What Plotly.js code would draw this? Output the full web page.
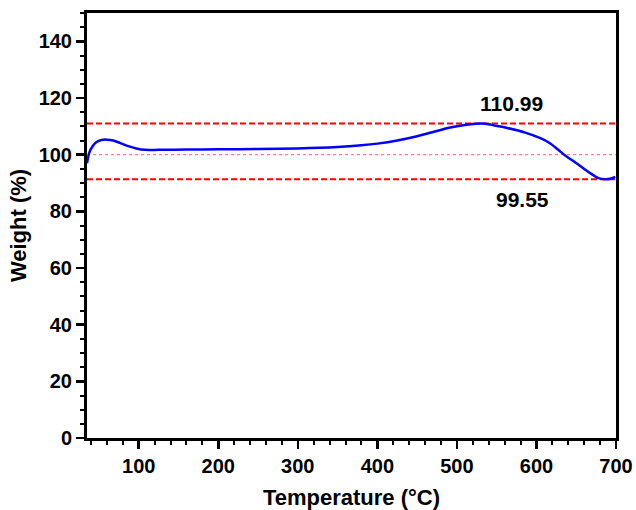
<!DOCTYPE html>
<html>
<head>
<meta charset="utf-8">
<script src="https://cdn.plot.ly/plotly-3.0.1.min.js"></script>
<style>html,body{margin:0;padding:0;background:#fff;}#chart{width:636px;height:510px;}</style>
</head>
<body>
<div id="chart"></div>
<script>
const temperature = [35, 38, 42, 47, 53, 60, 68, 77, 87, 97, 108, 125, 160, 200, 250, 300, 350, 380, 400, 425, 450, 470, 490, 508, 524, 536, 549, 562, 586, 605, 616, 627, 637, 648, 658, 668, 678, 686, 694, 699];
const weight = [97.0, 100.8, 103.0, 104.5, 105.2, 105.3, 105.0, 104.1, 103.0, 102.2, 101.7, 101.7, 101.8, 101.9, 102.0, 102.2, 102.7, 103.3, 103.9, 105.0, 106.5, 108.0, 109.5, 110.4, 110.9, 110.9, 110.2, 109.5, 107.8, 105.8, 104.2, 101.8, 99.5, 97.4, 95.4, 93.4, 91.7, 91.3, 91.6, 92.2];
const upperLine = 110.99;
const lowerLine = 91.3;
const baseLine = 100;
const upperLabel = "110.99";
const lowerLabel = "99.55";
const upperLabelPos = [568, 118.0];
const lowerLabelPos = [583, 84.2];
const xRange = [35, 700];
const yRange = [0, 150];

const lineX = [xRange[0], xRange[1]];
const traces = [
  {x: lineX, y: [baseLine, baseLine], mode: 'lines', line: {color: '#ff6060', width: 1, dash: 'dot'}, hoverinfo: 'skip'},
  {x: lineX, y: [upperLine, upperLine], mode: 'lines', line: {color: '#ff0000', width: 2, dash: '6px,3px'}, hoverinfo: 'skip'},
  {x: lineX, y: [lowerLine, lowerLine], mode: 'lines', line: {color: '#ff0000', width: 2, dash: '6px,3px'}, hoverinfo: 'skip'},
  {x: temperature, y: weight, mode: 'lines', line: {color: '#0000ff', width: 2.5, shape: 'spline', smoothing: 0.8}}
];
const fam = '"Liberation Sans", Arial, sans-serif';
const tickFont = {family: fam, size: 20, color: '#000', weight: 'bold'};
const titleFont = {family: fam, size: 22, color: '#000', weight: 'bold'};
const layout = {
  width: 636, height: 510,
  margin: {l: 87, r: 20, t: 13, b: 72},
  showlegend: false,
  paper_bgcolor: '#fff', plot_bgcolor: '#fff',
  font: {family: fam, color: '#000'},
  xaxis: {
    range: xRange, tick0: 0, dtick: 100, ticks: 'outside', ticklen: 8, tickwidth: 2.5, tickcolor: '#000',
    showline: true, linewidth: 3, linecolor: '#000', mirror: true, showgrid: false, zeroline: false,
    tickfont: tickFont,
    minor: {dtick: 20, tick0: 0, ticks: 'outside', ticklen: 4, tickwidth: 2, tickcolor: '#000', showgrid: false},
    title: {text: 'Temperature (°C)', font: titleFont, standoff: 16}
  },
  yaxis: {
    range: yRange, tick0: 0, dtick: 20, ticks: 'outside', ticklen: 8, tickwidth: 2.5, tickcolor: '#000',
    showline: true, linewidth: 3, linecolor: '#000', mirror: true, showgrid: false, zeroline: false,
    tickfont: tickFont,
    minor: {dtick: 5, tick0: 0, ticks: 'outside', ticklen: 4, tickwidth: 2, tickcolor: '#000', showgrid: false},
    title: {text: 'Weight (%)', font: titleFont, standoff: 6}
  },
  annotations: [
    {x: upperLabelPos[0], y: upperLabelPos[1], text: upperLabel, showarrow: false, font: {family: fam, size: 21, color: '#000', weight: 'bold'}},
    {x: lowerLabelPos[0], y: lowerLabelPos[1], text: lowerLabel, showarrow: false, font: {family: fam, size: 21, color: '#000', weight: 'bold'}}
  ]
};
Plotly.newPlot('chart', traces, layout, {staticPlot: true, displayModeBar: false});
</script>
</body>
</html>
